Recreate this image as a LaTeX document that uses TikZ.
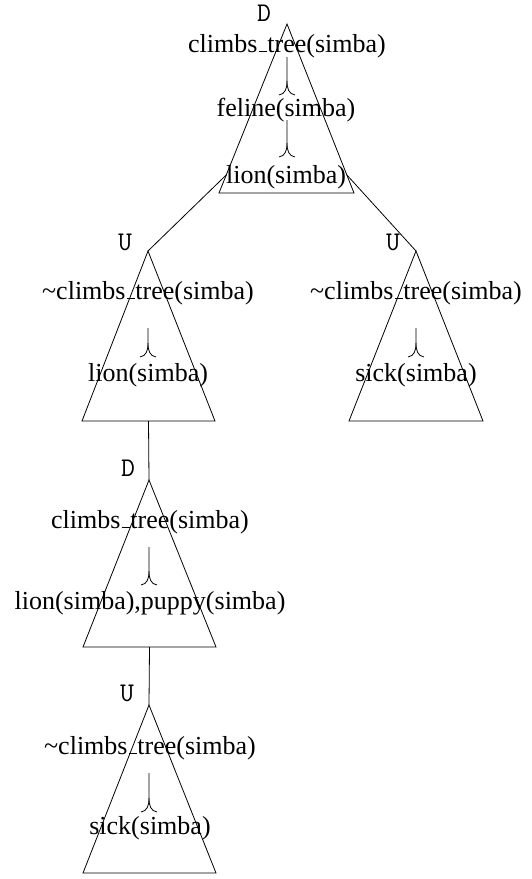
\documentclass[tikz,border=0pt]{standalone}
\usepackage{fontspec}
\setmainfont{Liberation Serif}
\usetikzlibrary{calc}
% curly junction between two formulas: #1 = x, #2 = top of stem, #3 = foot of arms
\newcommand\curlyjoin[3]{%
  \draw[edge] (#1,#2) -- (#1,#3-14)
    .. controls (#1,#3-6) and (#1-2,#3-1) .. (#1-8,#3);
  \draw[edge] (#1,#3-14)
    .. controls (#1,#3-6) and (#1+2,#3-1) .. (#1+8,#3);}
% short underscore sitting on the baseline
\newcommand\us{\leavevmode\kern.06em\vbox{\hrule width.3em height 1.1pt}\kern.02em}
\begin{document}
\begin{tikzpicture}[x=1pt,y=-1pt,
  formula/.style={inner sep=0pt, font=\fontsize{26}{30}\selectfont},
  tag/.style={inner sep=0pt, font=\fontsize{27}{30}\selectfont\ttfamily},
  edge/.style={line width=0.8pt},
  tri/.style={line width=0.8pt, line join=miter}]
\useasboundingbox (0,0) rectangle (531,879);

% ---- triangles (apex, base left, base right)
\coordinate (A1) at (287,24);  \coordinate (L1) at (219,193); \coordinate (R1) at (354,193);
\coordinate (A2) at (148,251); \coordinate (L2) at (82,421);  \coordinate (R2) at (215,421);
\coordinate (A3) at (416,251); \coordinate (L3) at (349,421); \coordinate (R3) at (483,421);
\coordinate (A4) at (149,480); \coordinate (L4) at (83,647);  \coordinate (R4) at (216,647);
\coordinate (A5) at (149,705); \coordinate (L5) at (83,873);  \coordinate (R5) at (216,873);
\foreach \i in {1,...,5} {\draw[tri] (A\i) -- (R\i) -- (L\i) -- cycle;}

% ---- labels of the triangles
\node[tag] (d1) at (264,13)  {D};
\node[tag] (u2) at (125,242) {U};
\node[tag] (u3) at (393,242) {U};
\node[tag] (d4) at (128,468) {D};
\node[tag] (u5) at (127,693) {U};

% ---- formulas
\node[formula] (f11) at (287,46)  {climbs\us tree(simba)};
\node[formula] (f12) at (286,110) {feline(simba)};
\node[formula] (f13) at (286,177) {lion(simba)};
\curlyjoin{287}{57}{95}
\curlyjoin{287}{120}{157}

\node[formula] (f21) at (148,293) {\textasciitilde climbs\us tree(simba)};
\node[formula] (f22) at (148,375) {lion(simba)};
\curlyjoin{148}{328}{357}

\node[formula] (f31) at (416,293) {\textasciitilde climbs\us tree(simba)};
\node[formula] (f32) at (416,375) {sick(simba)};
\curlyjoin{416}{328}{357}

\node[formula] (f41) at (150,522) {climbs\us tree(simba)};
\node[formula] (f42) at (150,603) {lion(simba),puppy(simba)};
\curlyjoin{149}{547}{585}

\node[formula] (f51) at (150,748) {\textasciitilde climbs\us tree(simba)};
\node[formula] (f52) at (150,828) {sick(simba)};
\curlyjoin{149}{773}{812}

% ---- links between triangles
\draw[edge] ($(A1)!0.893!(L1)$) -- (A2);
\draw[edge] ($(A1)!0.893!(R1)$) -- (A3);
\draw[edge] ($(L2)!0.5!(R2)$) -- (A4);
\draw[edge] ($(L4)!0.5!(R4)$) -- (A5);
\end{tikzpicture}
\end{document}
